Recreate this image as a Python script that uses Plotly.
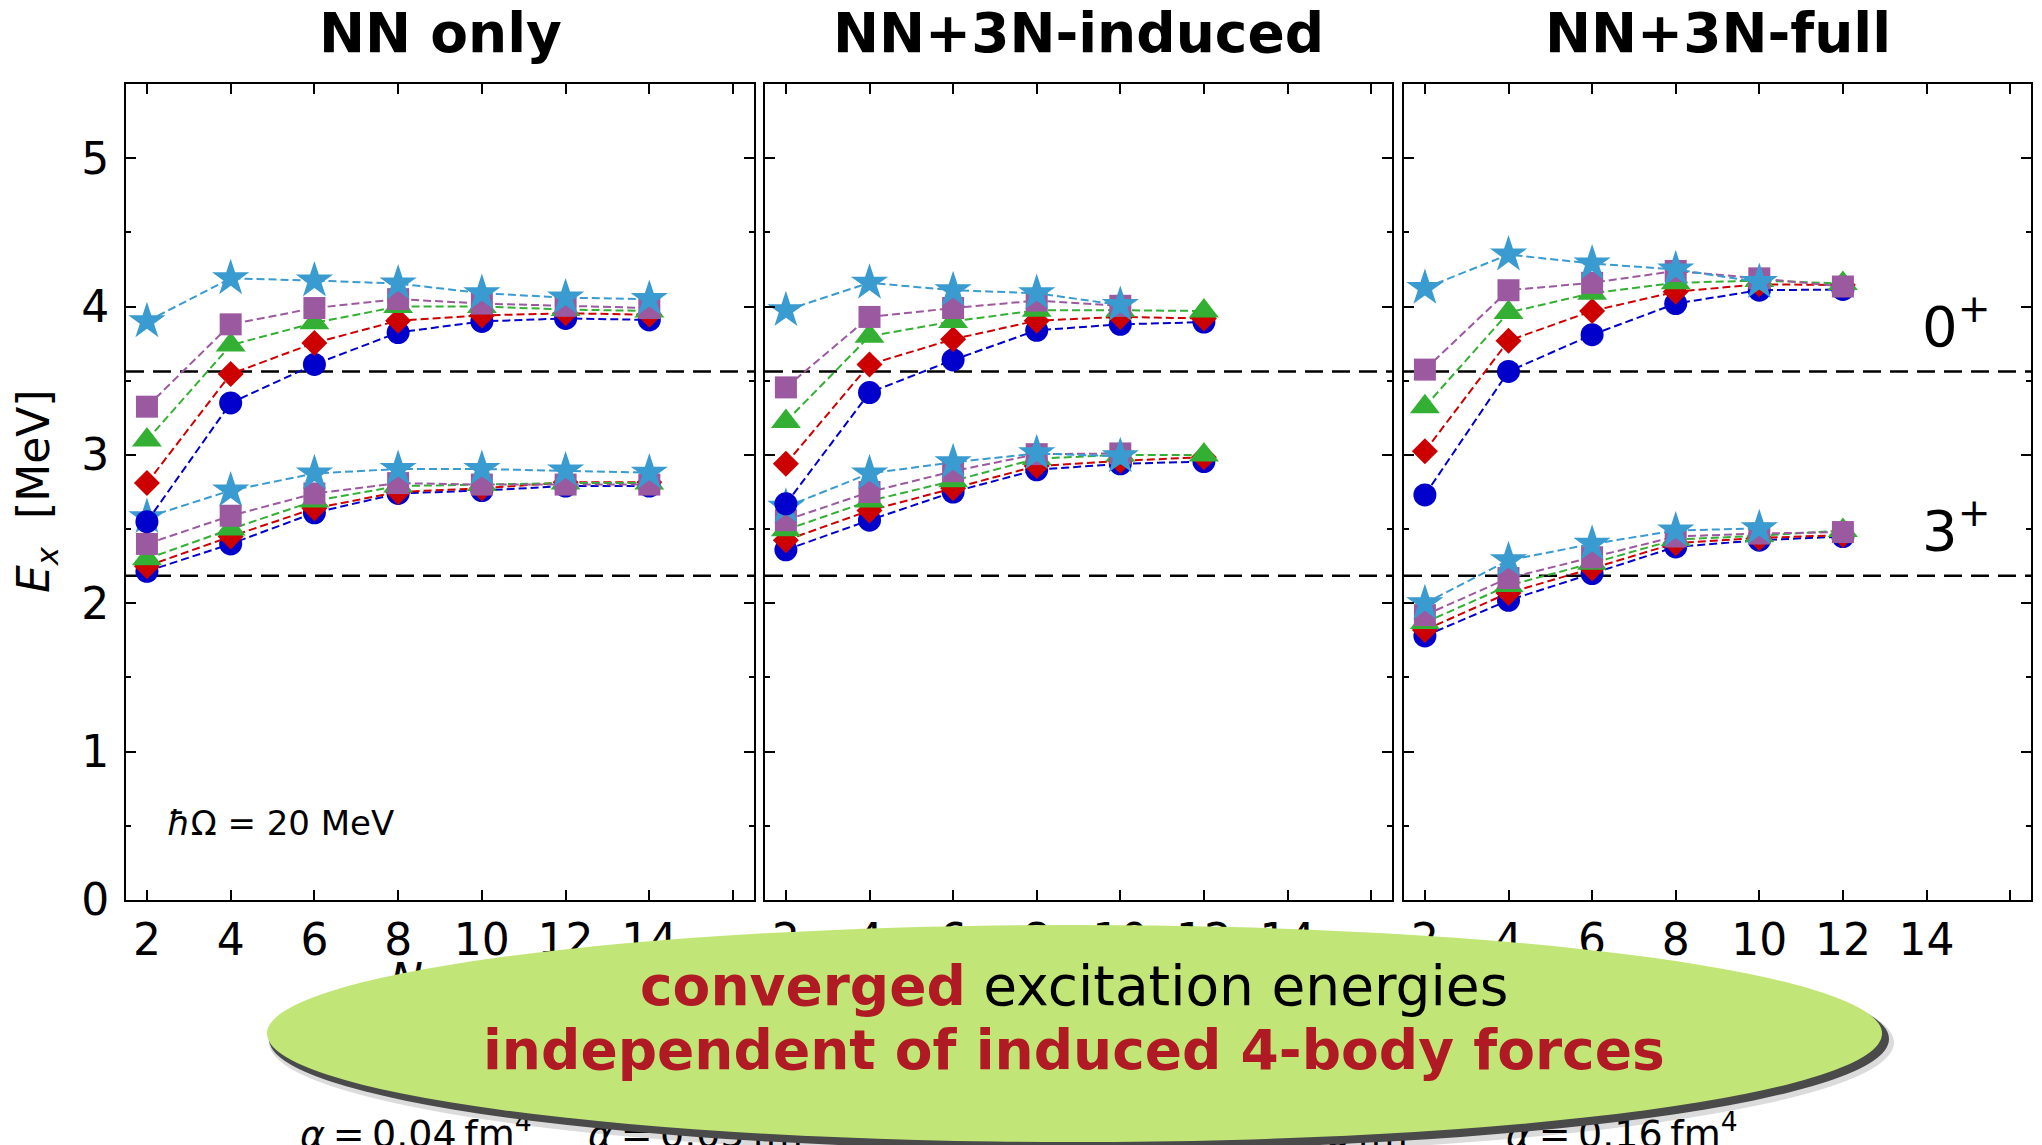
import plotly.graph_objects as go
from plotly.subplots import make_subplots

# ---------------------------------------------------------------- data
NMAX = [2, 4, 6, 8, 10, 12, 14]
X_TICKS = [2, 4, 6, 8, 10, 12, 14, 16]
X_TICK_TEXT = ["2", "4", "6", "8", "10", "12", "14", ""]
Y_TICKS = [0, 1, 2, 3, 4, 5]

PANEL_TITLES = ["NN only", "NN+3N-induced", "NN+3N-full"]
ALPHA_LABELS = ["0.04", "0.05", "0.0625", "0.08", "0.16"]

# experimental excitation energies of the 3+ and 0+ states [MeV]
EXP_3PLUS = 2.186
EXP_0PLUS = 3.563

# excitation energies [MeV]; one row per alpha (order of ALPHA_LABELS),
# entries follow NMAX (rows stop at the largest computed Nmax)
NN_ONLY_0PLUS = [
    [2.55, 3.35, 3.61, 3.825, 3.90, 3.92, 3.91],
    [2.81, 3.545, 3.755, 3.905, 3.94, 3.955, 3.945],
    [3.10, 3.74, 3.89, 4.00, 4.00, 3.98, 3.97],
    [3.325, 3.88, 3.99, 4.05, 4.02, 4.005, 3.99],
    [3.90, 4.19, 4.175, 4.155, 4.09, 4.06, 4.05],
]
NN_ONLY_3PLUS = [
    [2.215, 2.40, 2.61, 2.74, 2.76, 2.79, 2.79],
    [2.25, 2.45, 2.64, 2.75, 2.775, 2.815, 2.815],
    [2.30, 2.50, 2.69, 2.79, 2.80, 2.81, 2.81],
    [2.40, 2.59, 2.74, 2.81, 2.80, 2.80, 2.80],
    [2.58, 2.76, 2.875, 2.905, 2.905, 2.895, 2.88],
]
INDUCED_0PLUS = [
    [2.67, 3.42, 3.64, 3.84, 3.88, 3.895],
    [2.94, 3.61, 3.78, 3.905, 3.93, 3.92],
    [3.225, 3.80, 3.90, 3.975, 3.975, 3.97],
    [3.455, 3.93, 3.99, 4.04, 4.005],
    [3.975, 4.16, 4.11, 4.09, 4.01],
]
INDUCED_3PLUS = [
    [2.36, 2.56, 2.75, 2.90, 2.94, 2.955],
    [2.425, 2.625, 2.775, 2.925, 2.96, 2.985],
    [2.495, 2.69, 2.825, 2.975, 3.00, 3.00],
    [2.56, 2.75, 2.89, 3.005, 3.01],
    [2.65, 2.875, 2.95, 3.01, 2.99],
]
FULL_0PLUS = [
    [2.73, 3.5625, 3.81, 4.02, 4.11, 4.115],
    [3.025, 3.77, 3.97, 4.10, 4.15, 4.145],
    [3.325, 3.96, 4.09, 4.16, 4.175, 4.155],
    [3.575, 4.11, 4.16, 4.24, 4.19, 4.135],
    [4.125, 4.35, 4.29, 4.25, 4.165],
]
FULL_3PLUS = [
    [1.78, 2.02, 2.20, 2.38, 2.425, 2.45],
    [1.82, 2.07, 2.235, 2.405, 2.44, 2.46],
    [1.87, 2.12, 2.27, 2.43, 2.455, 2.49],
    [1.92, 2.17, 2.31, 2.45, 2.47, 2.48],
    [2.00, 2.29, 2.40, 2.49, 2.505],
]

PANELS = [
    (NN_ONLY_3PLUS, NN_ONLY_0PLUS),
    (INDUCED_3PLUS, INDUCED_0PLUS),
    (FULL_3PLUS, FULL_0PLUS),
]

# ---------------------------------------------------------------- style
COLORS = ["#0000cc", "#cc0000", "#33b033", "#9b59a0", "#3a9bd0"]
SYMBOLS = ["circle", "diamond", "triangle-up", "square", "star"]
SIZES = [23, 20, 26, 22, 28]
FONT = "DejaVu Sans"
RED_TXT = "#b01a24"
THIN = "\u2009"

W, H = 2042, 1145
L, R, T, B = 126, 2031, 84, 900          # plot frame in pixels
X_RANGE = [1.5, 16.5]
Y_RANGE = [0, 5.5]
PANEL_PX = [(126, 754), (765, 1392), (1404, 2031)]


def px(x):
    return (x - L) / (R - L)


def py(y):
    return (B - y) / (B - T)


fig = make_subplots(rows=1, cols=3, shared_yaxes=False)

for p, (lower, upper) in enumerate(PANELS):
    col = p + 1
    # 3+ curves first, 0+ curves drawn over them
    for state in (lower, upper):
        for k, vals in enumerate(state):
            fig.add_trace(
                go.Scatter(
                    x=NMAX[:len(vals)],
                    y=vals,
                    mode="lines+markers",
                    line=dict(color=COLORS[k], width=2, dash="8px,4px"),
                    marker=dict(symbol=SYMBOLS[k], size=SIZES[k],
                                color=COLORS[k], line=dict(width=0)),
                    showlegend=False,
                    hoverinfo="skip",
                ),
                row=1, col=col,
            )
    for level in (EXP_3PLUS, EXP_0PLUS):
        sfx = "" if col == 1 else str(col)
        fig.add_shape(
            type="line", xref=f"x{sfx} domain", yref=f"y{sfx}",
            x0=0, x1=1, y0=level, y1=level, layer="below",
            line=dict(color="black", width=2.5, dash="18px,9px"),
        )

axis_common = dict(
    showline=True, linewidth=2, linecolor="black", mirror="ticks",
    ticks="inside", ticklen=10, tickwidth=2, tickcolor="black",
    showgrid=False, zeroline=False,
    tickfont=dict(family=FONT, size=44, color="black"),
)

for p in range(3):
    sfx = "" if p == 0 else str(p + 1)
    x0, x1 = PANEL_PX[p]
    fig.layout[f"xaxis{sfx}"].update(
        domain=[px(x0), px(x1)], range=X_RANGE,
        tickmode="array", tickvals=X_TICKS, ticktext=X_TICK_TEXT,
        **axis_common,
    )
    fig.layout[f"yaxis{sfx}"].update(
        range=Y_RANGE, tickmode="array", tickvals=Y_TICKS,
        showticklabels=(p == 0), ticklabelstandoff=6,
        minor=dict(ticks="inside", dtick=0.5, ticklen=5, tickwidth=2,
                   tickcolor="black"),
        **axis_common,
    )

annotations = []
for p, title in enumerate(PANEL_TITLES):
    x0, x1 = PANEL_PX[p]
    annotations.append(dict(
        text=f"<b>{title}</b>", xref="paper", yref="paper",
        x=px((x0 + x1) / 2), y=py(33), xanchor="center", yanchor="middle",
        showarrow=False, font=dict(family=FONT, size=55, color="black"),
    ))

annotations += [
    dict(text="<i>E</i><sub><i>x</i></sub>  [MeV]", xref="paper", yref="paper",
         x=px(36), y=py(492), textangle=-90, xanchor="center",
         yanchor="middle", showarrow=False,
         font=dict(family=FONT, size=44, color="black")),
    dict(text="<i>ħ</i>Ω = 20 MeV", xref="paper", yref="paper",
         x=px(165), y=py(823), xanchor="left", yanchor="middle",
         showarrow=False, font=dict(family=FONT, size=34, color="black")),
    dict(text="0<sup>+</sup>", xref="paper", yref="paper",
         x=px(1920), y=py(322), xanchor="left", yanchor="middle",
         showarrow=False, font=dict(family=FONT, size=56, color="black")),
    dict(text="3<sup>+</sup>", xref="paper", yref="paper",
         x=px(1920), y=py(526), xanchor="left", yanchor="middle",
         showarrow=False, font=dict(family=FONT, size=56, color="black")),
    dict(text=f"<b><span style='color:{RED_TXT}'>converged</span></b> "
              "excitation energies",
         xref="paper", yref="paper", x=px(1074), y=py(986),
         xanchor="center", yanchor="middle", showarrow=False,
         font=dict(family=FONT, size=55, color="black")),
    dict(text="<b>independent of induced 4-body forces</b>",
         xref="paper", yref="paper", x=px(1074), y=py(1050),
         xanchor="center", yanchor="middle", showarrow=False,
         font=dict(family=FONT, size=55, color=RED_TXT)),
]

shapes = list(fig.layout.shapes)

# x-axis title and alpha key: drawn as shape labels so the banner covers them
shapes.append(dict(
    type="rect", xref="paper", yref="paper", layer="above",
    x0=px(340), x1=px(540), y0=py(1000), y1=py(960),
    line=dict(width=0), fillcolor="rgba(0,0,0,0)",
    label=dict(text="<i>N</i><sub>max</sub>", textposition="middle center",
               padding=0, font=dict(family=FONT, size=44, color="black")),
))
KEY_LEFT = [297, 585, 872, 1190, 1503]
for a, xl in zip(ALPHA_LABELS, KEY_LEFT):
    shapes.append(dict(
        type="rect", xref="paper", yref="paper", layer="above",
        x0=px(xl), x1=px(xl + 300), y0=py(1156), y1=py(1112),
        line=dict(width=0), fillcolor="rgba(0,0,0,0)",
        label=dict(text=f"<i>α</i>{THIN}={THIN}{a}{THIN}fm<sup>4</sup>",
                   textposition="middle left", padding=0,
                   font=dict(family=FONT, size=38, color="black")),
    ))

# banner: soft shadow, dark shadow, green ellipse
EX0, EX1, EY0, EY1 = 267, 1882, 925, 1142
for dx0, dx1, dy0, dy1, col in [
    (2, 12, 4, 14, "rgba(0,0,0,0.14)"),
    (2, 7, 3, 8, "#4a4a4a"),
]:
    shapes.append(dict(
        type="circle", xref="paper", yref="paper", layer="above",
        x0=px(EX0 + dx0), x1=px(EX1 + dx1), y0=py(EY1 + dy1), y1=py(EY0 + dy0),
        line=dict(width=0), fillcolor=col,
    ))
shapes.append(dict(
    type="circle", xref="paper", yref="paper", layer="above",
    x0=px(EX0), x1=px(EX1), y0=py(EY1), y1=py(EY0),
    line=dict(width=0), fillcolor="#c1e677",
))

fig.update_layout(
    width=W, height=H,
    margin=dict(l=L, r=W - R, t=T, b=H - B, autoexpand=False),
    paper_bgcolor="white", plot_bgcolor="white",
    showlegend=False,
    annotations=annotations,
    shapes=shapes,
    font=dict(family=FONT, color="black"),
)

fig.write_html("out.html")
